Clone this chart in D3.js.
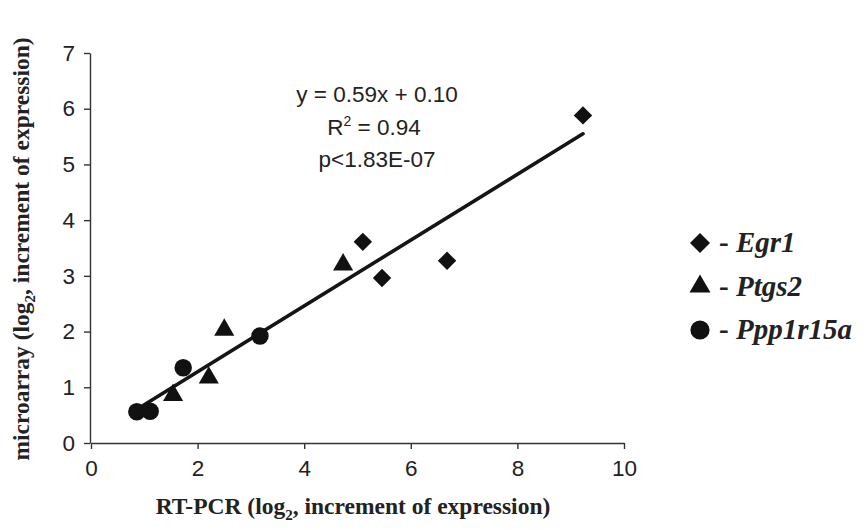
<!DOCTYPE html>
<html lang="en">
<head>
  <meta charset="utf-8" />
  <title>microarray vs RT-PCR</title>
  <script src="https://d3js.org/d3.v7.min.js"></script>
  <style>
    body { margin: 0; background: #fff; }
    .tick text { font-family: "Liberation Sans", Arial, sans-serif; font-size: 22.5px; fill: #222; }
    .axis path, .axis line { stroke: #333; stroke-width: 1.4; }
  </style>
</head>
<body>
  <script>
    // Egr1 (diamonds)
    var egr1X = [9.23, 5.10, 5.46, 6.68];
    var egr1Y = [5.88, 3.61, 2.96, 3.27];
    // Ptgs2 (triangles)
    var ptgs2X = [4.73, 2.50, 2.21, 1.54];
    var ptgs2Y = [3.20, 2.03, 1.17, 0.86];
    // Ppp1r15a (circles)
    var pppX = [0.86, 1.11, 1.73, 3.17];
    var pppY = [0.56, 0.57, 1.35, 1.92];
    // fitted line end points
    var trendX = [0.97, 9.23];
    var trendY = [0.67, 5.55];

    var xTicks = [0, 2, 4, 6, 8, 10];
    var yTicks = [0, 1, 2, 3, 4, 5, 6, 7];
    var statLines = ["y = 0.59x + 0.10", "R", "p<1.83E-07"];
    var legendNames = ["Egr1", "Ptgs2", "Ppp1r15a"];

    var width = 866, height = 530;
    var margin = { top: 53, left: 91, right: 242, bottom: 87 };

    var svg = d3.select("body").append("svg")
      .attr("width", width)
      .attr("height", height);

    var x = d3.scaleLinear().domain([0, 10]).range([margin.left, width - margin.right]);
    var y = d3.scaleLinear().domain([0, 7]).range([height - margin.bottom, margin.top]);

    var xAxis = d3.axisBottom(x).tickValues(xTicks).tickSize(6).tickPadding(11).tickSizeOuter(0)
      .tickFormat(d3.format("d"));
    var yAxis = d3.axisLeft(y).tickValues(yTicks).tickSize(6).tickPadding(9).tickSizeOuter(0)
      .tickFormat(d3.format("d"));

    svg.append("g")
      .attr("class", "axis")
      .attr("transform", "translate(0," + y(0) + ")")
      .call(xAxis);

    svg.append("g")
      .attr("class", "axis")
      .attr("transform", "translate(" + (x(0) - 1) + ",0)")
      .call(yAxis);

    // trend line
    svg.append("line")
      .attr("x1", x(trendX[0])).attr("y1", y(trendY[0]))
      .attr("x2", x(trendX[1])).attr("y2", y(trendY[1]))
      .attr("stroke", "#151515")
      .attr("stroke-width", 3.6)
      .attr("stroke-linecap", "round");

    var diamond = d3.symbol().type(d3.symbolSquare).size(170);
    var triangle = d3.symbol().type(d3.symbolTriangle).size(175);
    var circle = d3.symbol().type(d3.symbolCircle).size(240);

    function drawSeries(xs, ys, sym, rot) {
      svg.append("g").selectAll("path")
        .data(xs)
        .join("path")
        .attr("d", sym)
        .attr("transform", function (d, i) {
          return "translate(" + x(d) + "," + y(ys[i]) + ") rotate(" + rot + ")";
        })
        .attr("fill", "#111");
    }
    drawSeries(egr1X, egr1Y, diamond, 45);
    drawSeries(ptgs2X, ptgs2Y, triangle, 0);
    drawSeries(pppX, pppY, circle, 0);

    // regression stats
    var stats = svg.append("g")
      .attr("font-family", "'Liberation Sans', Arial, sans-serif")
      .attr("font-size", 22.5)
      .attr("fill", "#222")
      .attr("text-anchor", "middle");
    stats.append("text").attr("x", 377).attr("y", 102).text(statLines[0]);
    var r2 = stats.append("text").attr("x", 374).attr("y", 135);
    r2.append("tspan").text(statLines[1]);
    r2.append("tspan").attr("font-size", 14).attr("dy", -9).text("2");
    r2.append("tspan").attr("dy", 9).text(" = 0.94");
    stats.append("text").attr("x", 377).attr("y", 167).text(statLines[2]);

    // axis titles
    var xt = svg.append("text")
      .attr("x", 353).attr("y", 514)
      .attr("text-anchor", "middle")
      .attr("font-family", "'Liberation Serif', 'Times New Roman', serif")
      .attr("font-weight", "bold")
      .attr("font-size", 23.5)
      .attr("fill", "#222");
    xt.append("tspan").text("RT-PCR (log");
    xt.append("tspan").attr("font-size", 15).attr("dy", 6).text("2");
    xt.append("tspan").attr("dy", -6).text(", increment of expression)");

    var yt = svg.append("text")
      .attr("transform", "translate(29,249) rotate(-90)")
      .attr("text-anchor", "middle")
      .attr("font-family", "'Liberation Serif', 'Times New Roman', serif")
      .attr("font-weight", "bold")
      .attr("font-size", 23.5)
      .attr("fill", "#222");
    yt.append("tspan").text("microarray (log");
    yt.append("tspan").attr("font-size", 15).attr("dy", 6).text("2");
    yt.append("tspan").attr("dy", -6).text(", increment of expression)");

    // legend
    var legSyms = [
      d3.symbol().type(d3.symbolSquare).size(200),
      d3.symbol().type(d3.symbolTriangle).size(190),
      d3.symbol().type(d3.symbolCircle).size(290)
    ];
    var legRot = [45, 0, 0];
    var legend = svg.append("g");
    legendNames.forEach(function (name, i) {
      var cy = 243 + i * 43.5;
      legend.append("path")
        .attr("d", legSyms[i])
        .attr("transform", "translate(700," + cy + ") rotate(" + legRot[i] + ")")
        .attr("fill", "#111");
      var t = legend.append("text")
        .attr("x", 719).attr("y", cy + 9)
        .attr("font-family", "'Liberation Serif', 'Times New Roman', serif")
        .attr("font-weight", "bold")
        .attr("font-size", 29)
        .attr("fill", "#222");
      t.append("tspan").text("- ");
      t.append("tspan").attr("font-style", "italic").text(name);
    });
  </script>
</body>
</html>
